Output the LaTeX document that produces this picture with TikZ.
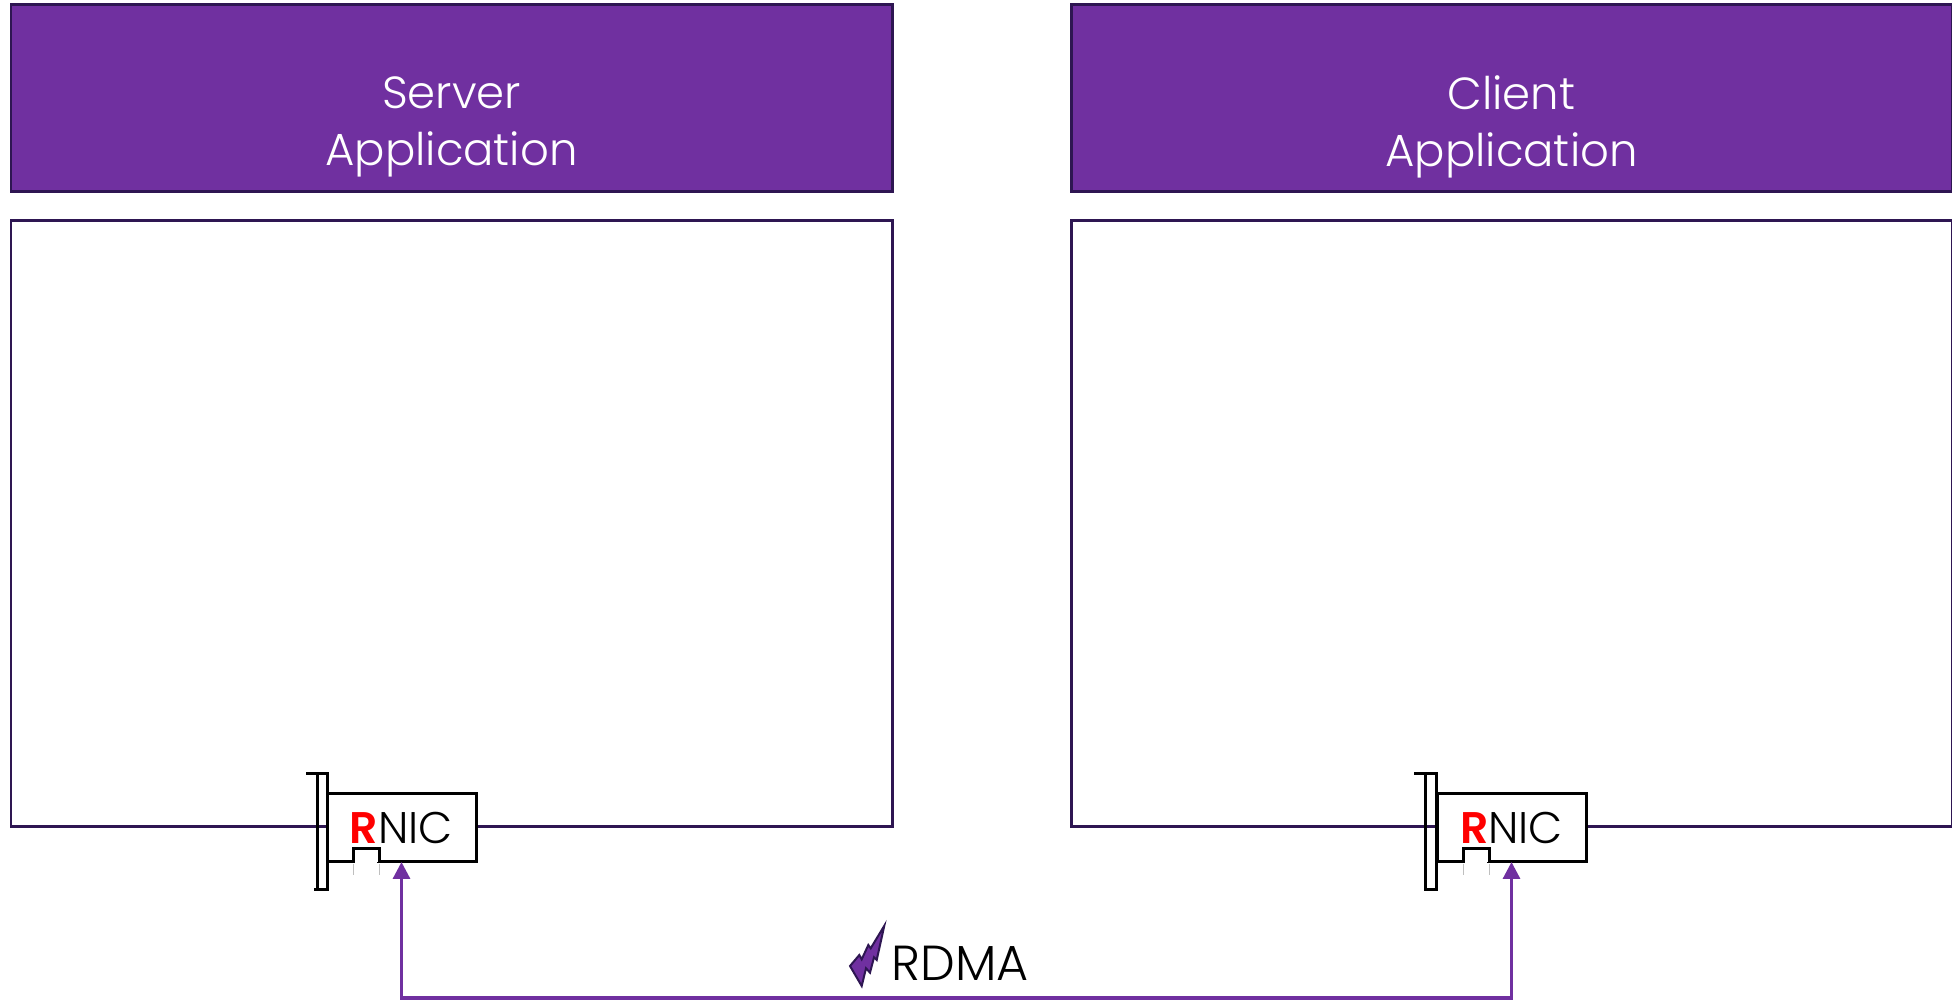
\documentclass[tikz,border=0pt]{standalone}
\usepackage{fontspec}
\setmainfont{Poppins}[UprightFont=* Light,BoldFont=* SemiBold]
\usetikzlibrary{arrows.meta}
\definecolor{rdmapurple}{RGB}{112, 48, 160}
\definecolor{rdmadark}{RGB}{46, 22, 82}
\tikzset{
  appbox/.style={draw=rdmadark, fill=rdmapurple, line width=0.03cm, minimum height=1.87cm, inner sep=0pt},
  hostbox/.style={draw=rdmadark, fill=white, line width=0.03cm, minimum height=6.06cm, inner sep=0pt},
  applabel/.style={text=white, align=center, font=\fontsize{12.8}{16}\selectfont, inner sep=0pt},
  rnicbox/.style={draw=black, fill=white, line width=0.03cm, outer sep=0pt, minimum width=1.49cm, minimum height=0.68cm, inner sep=0pt, font=\fontsize{12.6}{16}\selectfont},
  cardline/.style={draw=black, line width=0.03cm},
  pinline/.style={draw=black!25, line width=0.008cm},
  rdmalink/.style={draw=rdmapurple, line width=0.032cm, {Triangle[width=0.17cm,length=0.17cm]}-{Triangle[width=0.17cm,length=0.17cm]}}
}
\begin{document}
\begin{tikzpicture}
\useasboundingbox (0,0) rectangle (19.52,9.99);
% Server
\node[appbox, minimum width=8.81cm] (serverapp) at (4.515,9.005) {};
\node[applabel] (serverlabel) at (4.515,8.72) {Server\\Application};
\node[hostbox, minimum width=8.81cm] (serverhost) at (4.515,4.75) {};
% Client
\node[appbox, minimum width=8.81cm] (clientapp) at (15.115,9.005) {};
\node[applabel] (clientlabel) at (15.115,8.72) {Client\\Application};
\node[hostbox, minimum width=8.81cm] (clienthost) at (15.115,4.75) {};
% Server RNIC
\node[rnicbox] (serverrnic) at (4.015,1.71) {\textbf{\textcolor{red}{R}}NIC};
\draw[cardline] (3.06,2.25) -- (3.27,2.25) -- (3.27,1.09) -- (3.14,1.09);
\draw[cardline] (3.17,2.25) -- (3.17,1.09);
\draw[cardline, fill=white] (3.53,1.37) -- (3.53,1.50) -- (3.79,1.50) -- (3.79,1.37);
\draw[white, line width=0.034cm] (3.55,1.37) -- (3.77,1.37);
\draw[pinline] (3.53,1.35) -- (3.53,1.24);
\draw[pinline] (3.79,1.35) -- (3.79,1.24);
% Client RNIC
\node[rnicbox] (clientrnic) at (15.115,1.71) {\textbf{\textcolor{red}{R}}NIC};
\draw[cardline] (14.14,2.25) -- (14.36,2.25) -- (14.36,1.09) -- (14.24,1.09);
\draw[cardline] (14.25,2.25) -- (14.25,1.09);
\draw[cardline, fill=white] (14.63,1.37) -- (14.63,1.50) -- (14.89,1.50) -- (14.89,1.37);
\draw[white, line width=0.034cm] (14.65,1.37) -- (14.87,1.37);
\draw[pinline] (14.63,1.35) -- (14.63,1.24);
\draw[pinline] (14.89,1.35) -- (14.89,1.24);
% RDMA link
\coordinate (rdmabase) at (9.60,0.01);
\draw[rdmalink] (serverrnic.south) |- (rdmabase) -| (clientrnic.south);
\node[font=\fontsize{14}{16}\selectfont, inner sep=0pt] (rdmalabel) at (9.60,0.36) {RDMA};
% Bolt
\draw[fill=rdmapurple, draw=rdmadark, line width=0.02cm] (8.843,0.733) -- (8.767,0.39) -- (8.74,0.417) -- (8.70,0.263) -- (8.66,0.307) -- (8.617,0.13) -- (8.50,0.33) -- (8.593,0.44) -- (8.617,0.397) -- (8.683,0.54) -- (8.707,0.507) -- cycle;
\end{tikzpicture}
\end{document}
